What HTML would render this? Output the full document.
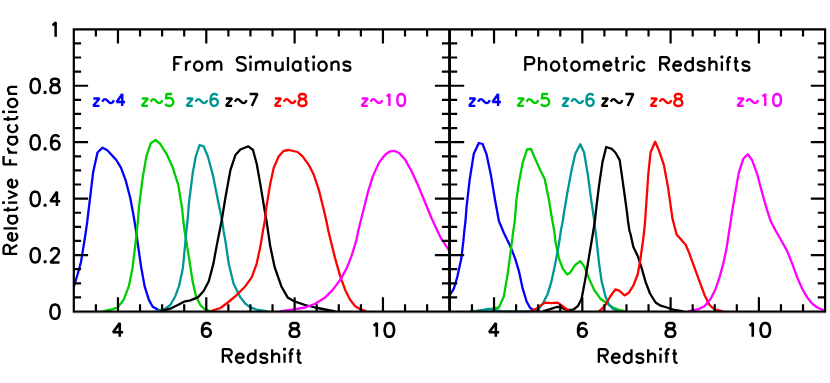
<!DOCTYPE html>
<html><head><meta charset="utf-8"><title>Redshift selection functions</title>
<style>html,body{margin:0;padding:0;background:#fff;font-family:"Liberation Sans",sans-serif}svg{display:block}</style></head>
<body>
<svg width="830" height="383" viewBox="0 0 830 383">
<rect width="830" height="383" fill="#fff"/>
<clipPath id="cl"><rect x="73.8" y="29.3" width="751.3" height="283.3"/></clipPath><g clip-path="url(#cl)">
<polyline points="73.8,286.8 77.4,275 81,262 85.2,236 87.2,222 89.1,206 93.1,172.6 97.5,152.5 102.6,147.7 107.3,150.2 116.3,160 120.9,167.6 125.6,180.1 130.2,197.7 133.5,215.2 136.1,231 137.4,241 141,266.1 144.6,286.2 148.9,299.9 152.7,306.7 157.7,309.5 165.2,311.3" fill="none" stroke="#0000ff" stroke-width="2.3" stroke-linejoin="round" stroke-linecap="butt"/>
<polyline points="102.6,311.3 112.6,309.2 117.6,307.5 123.6,299.9 128.9,286.2 132.4,268.6 135.2,246.1 136.8,231 138,220 138.9,207.7 142.7,177.6 146.4,156.3 150.7,143.3 155.7,140 160.2,143.8 166.5,153.8 172.8,167.6 178.3,185.1 182,207.7 183.3,221 184.6,231 185.8,238 189.1,258.6 192.6,281.2 196,296.2 200.3,305 204.1,308.7 210.4,311.3" fill="none" stroke="#00cd00" stroke-width="2.3" stroke-linejoin="round" stroke-linecap="butt"/>
<polyline points="155.2,311.3 165.2,308.7 170.3,305 175.3,296.2 179,286.2 182.8,268.6 185,246.1 186.3,231 187.5,221 189,202.7 192.8,172.6 195.8,156.3 199.6,145 203.6,146.3 207.8,156.3 212.9,175.1 217.9,200.2 222.2,221 223.6,231 225.4,241 228.7,263.6 233.6,283.7 240.4,297.4 245.4,303.7 250.5,307.5 258,310 268,311.3" fill="none" stroke="#009696" stroke-width="2.3" stroke-linejoin="round" stroke-linecap="butt"/>
<polyline points="160.2,311.3 170.3,308.7 177.8,305 184,301.7 190.3,300.4 197.8,297.4 203.5,291.2 208.8,281.2 213.4,263.6 216.6,246.1 219.6,231 221.6,221 225.4,197.7 230.4,170.1 235.4,155.1 240.4,149.5 248.4,146.3 253,150 256.7,163.8 260.5,185.1 264.2,207.7 266.5,221 268,231 270.2,246.1 274.6,267 281.3,286.2 287.6,297.4 295.1,301.7 305.1,305 315.1,307.5 325.2,309.5 335.2,311.3" fill="none" stroke="#000000" stroke-width="2.3" stroke-linejoin="round" stroke-linecap="butt"/>
<polyline points="210.4,311.3 220.4,308 227.9,302.5 235.4,296.2 245.4,286.2 251.7,277.4 256.7,263.6 260.5,246.1 262.9,231 264.8,221 266.3,207.7 270,185.1 273.8,167.6 278.8,156.3 283.8,150.8 288.8,150 297.6,152 302.6,156.3 308.9,165.1 313.9,175.1 318.9,190.1 323.9,210.2 326.4,221 328.4,231 330.2,238.5 335.2,258.6 340.2,276.1 345.2,289.9 350.2,299.9 355.2,306.2 360.3,309.2 366.5,311.3" fill="none" stroke="#ff0000" stroke-width="2.3" stroke-linejoin="round" stroke-linecap="butt"/>
<polyline points="280,311.3 295.1,309.2 305.1,307.5 315.1,303.7 325.2,297.4 332.7,289.9 340.2,279.9 346.5,268.6 351.5,256.1 356.5,239.8 358.2,231 360.7,221 362.8,212.7 367.8,192.6 372.8,176.4 379,162.6 385.3,154.5 390.3,151.3 394.1,150.8 399.1,153 405.4,160.1 411.6,171.3 417.9,185.1 424.2,200.2 431.7,218.5 437.5,231 440.5,237.3 449.2,250.6" fill="none" stroke="#ff00ff" stroke-width="2.3" stroke-linejoin="round" stroke-linecap="butt"/>
<polyline points="450,295 453.8,288.7 457.5,276.1 461.3,258.6 463.5,240 464.3,231 465.5,221 466.5,207.7 469.6,180.1 473.8,153.8 478.8,143 482.6,144 486.4,153.8 490.9,175.1 495.1,200.2 498.9,221 501,226 503.9,233 510.2,246.1 515.2,258.6 518.9,271.1 522.7,288.7 526.5,301.2 530.2,308 534,310.2 540.2,311.3" fill="none" stroke="#0000ff" stroke-width="2.3" stroke-linejoin="round" stroke-linecap="butt"/>
<polyline points="470,311.3 482.6,310.3 490.1,309.2 498.9,307.5 503.9,296.2 507.7,273.6 510.7,251.1 513.3,231 514.8,221 516.4,200.2 518.9,182.6 522.7,162.6 527,149.5 531,149 535.2,158.8 540.2,170.1 544.7,178.9 549,200.2 552.3,220.5 554.3,231 555.3,241 559,258.6 562.8,268.6 567.1,274.4 570.3,272.4 575.3,264.9 580.3,261.1 584.1,266.1 589.1,278.6 594.1,289.9 600.4,298.7 606.7,303.2 612.9,307.5 619.2,310 625.5,311.3" fill="none" stroke="#00cd00" stroke-width="2.3" stroke-linejoin="round" stroke-linecap="butt"/>
<polyline points="475,311.3 488.9,309 502.6,311.3 530,311.3 537.7,310 542.7,303.7 547.8,293.7 551.5,281.2 555.3,263.6 559,243.6 560.8,231 562.8,221 564,212.7 567.8,190.1 571.6,170.1 575.3,153.8 580.3,144.3 584.1,152.5 587.9,175.1 591.6,202.7 594.3,221 595.5,231 596.6,241 599.1,263.6 601.6,281.2 605.4,296.2 609.2,305 612.9,308.7 617.9,311.3" fill="none" stroke="#009696" stroke-width="2.3" stroke-linejoin="round" stroke-linecap="butt"/>
<polyline points="542.7,311.3 550.3,309.2 556.5,307 560.3,307 566.6,310 572.8,310 577.8,306.2 581.6,298.7 585.4,278.6 589.1,256.1 592.9,233.5 594.9,221 596.6,205.2 599.1,185.1 602.4,162.6 606.2,147 611.7,148.8 615.4,152.5 619.7,160.1 622.9,182.6 626.7,210.2 628,221 629.5,231 630.5,234 633.3,246.7 638,256.7 641.8,268.6 645.6,282 650,293.5 655.6,302.5 660.6,305.7 666.9,307.5 673.1,309.7 683.2,311.3" fill="none" stroke="#000000" stroke-width="2.3" stroke-linejoin="round" stroke-linecap="butt"/>
<polyline points="530.2,311.3 536.5,308.7 540.5,305.6 545,302.6 551.3,303.2 557.6,302.6 562.8,306.2 566.2,309 569.5,311.3" fill="none" stroke="#ff0000" stroke-width="2.3" stroke-linejoin="round" stroke-linecap="butt"/>
<polyline points="598.8,311.3 601.5,309.2 605.4,305 610.4,296.2 615.4,289.4 619.2,290.7 624.5,295.4 628.8,292.8 633.6,285 637.8,274 640.5,258.6 643.3,238.5 644.2,231 645.1,221 646.3,203.5 648.3,174 650.6,152.2 655.1,141.8 659.3,151.3 663.9,165.1 668.1,187.6 672.5,218.8 676.7,234.8 681.5,239.9 685.8,244.9 689.4,253.6 694.4,267.4 699.4,281.2 704.5,294.9 709.5,305 714.5,309.5 723.3,311.3" fill="none" stroke="#ff0000" stroke-width="2.3" stroke-linejoin="round" stroke-linecap="butt"/>
<polyline points="688.2,311.3 698.2,309.2 704.5,306.2 710.7,298.7 715.7,288.7 719.5,277.4 723.3,263.6 726.5,248.6 729.2,231 730.8,221 732,212.7 735.3,192.6 738.8,172.6 743.3,158.8 747.8,154.3 752.1,160.1 757.1,173.8 762.1,192.6 767.1,210.2 770.6,221 775.5,230.4 780.9,239.8 787.2,251.1 792.2,263.6 797.2,277.4 802.2,288.7 807.2,297.4 812.2,303.7 817.3,307.5 823.5,310.3 825,311.3" fill="none" stroke="#ff00ff" stroke-width="2.3" stroke-linejoin="round" stroke-linecap="butt"/>
</g>
<path d="M73.8 29.3 H449.2 V311.5 H73.8 Z M95.88 311.5 L95.88 304.2 M95.88 29.3 L95.88 36.6 M117.96 311.5 L117.96 297.2 M117.96 29.3 L117.96 43.6 M140.05 311.5 L140.05 304.2 M140.05 29.3 L140.05 36.6 M162.13 311.5 L162.13 304.2 M162.13 29.3 L162.13 36.6 M184.21 311.5 L184.21 304.2 M184.21 29.3 L184.21 36.6 M206.29 311.5 L206.29 297.2 M206.29 29.3 L206.29 43.6 M228.38 311.5 L228.38 304.2 M228.38 29.3 L228.38 36.6 M250.46 311.5 L250.46 304.2 M250.46 29.3 L250.46 36.6 M272.54 311.5 L272.54 304.2 M272.54 29.3 L272.54 36.6 M294.62 311.5 L294.62 297.2 M294.62 29.3 L294.62 43.6 M316.71 311.5 L316.71 304.2 M316.71 29.3 L316.71 36.6 M338.79 311.5 L338.79 304.2 M338.79 29.3 L338.79 36.6 M360.87 311.5 L360.87 304.2 M360.87 29.3 L360.87 36.6 M382.95 311.5 L382.95 297.2 M382.95 29.3 L382.95 43.6 M405.04 311.5 L405.04 304.2 M405.04 29.3 L405.04 36.6 M427.12 311.5 L427.12 304.2 M427.12 29.3 L427.12 36.6 M73.8 297.39 L81.1 297.39 M449.2 297.39 L441.9 297.39 M73.8 283.28 L81.1 283.28 M449.2 283.28 L441.9 283.28 M73.8 269.17 L81.1 269.17 M449.2 269.17 L441.9 269.17 M73.8 255.06 L88.1 255.06 M449.2 255.06 L434.9 255.06 M73.8 240.95 L81.1 240.95 M449.2 240.95 L441.9 240.95 M73.8 226.84 L81.1 226.84 M449.2 226.84 L441.9 226.84 M73.8 212.73 L81.1 212.73 M449.2 212.73 L441.9 212.73 M73.8 198.62 L88.1 198.62 M449.2 198.62 L434.9 198.62 M73.8 184.51 L81.1 184.51 M449.2 184.51 L441.9 184.51 M73.8 170.4 L81.1 170.4 M449.2 170.4 L441.9 170.4 M73.8 156.29 L81.1 156.29 M449.2 156.29 L441.9 156.29 M73.8 142.18 L88.1 142.18 M449.2 142.18 L434.9 142.18 M73.8 128.07 L81.1 128.07 M449.2 128.07 L441.9 128.07 M73.8 113.96 L81.1 113.96 M449.2 113.96 L441.9 113.96 M73.8 99.85 L81.1 99.85 M449.2 99.85 L441.9 99.85 M73.8 85.74 L88.1 85.74 M449.2 85.74 L434.9 85.74 M73.8 71.63 L81.1 71.63 M449.2 71.63 L441.9 71.63 M73.8 57.52 L81.1 57.52 M449.2 57.52 L441.9 57.52 M73.8 43.41 L81.1 43.41 M449.2 43.41 L441.9 43.41 M449.9 29.3 H825.1 V311.5 H449.9 Z M471.97 311.5 L471.97 304.2 M471.97 29.3 L471.97 36.6 M494.04 311.5 L494.04 297.2 M494.04 29.3 L494.04 43.6 M516.11 311.5 L516.11 304.2 M516.11 29.3 L516.11 36.6 M538.18 311.5 L538.18 304.2 M538.18 29.3 L538.18 36.6 M560.25 311.5 L560.25 304.2 M560.25 29.3 L560.25 36.6 M582.32 311.5 L582.32 297.2 M582.32 29.3 L582.32 43.6 M604.39 311.5 L604.39 304.2 M604.39 29.3 L604.39 36.6 M626.46 311.5 L626.46 304.2 M626.46 29.3 L626.46 36.6 M648.54 311.5 L648.54 304.2 M648.54 29.3 L648.54 36.6 M670.61 311.5 L670.61 297.2 M670.61 29.3 L670.61 43.6 M692.68 311.5 L692.68 304.2 M692.68 29.3 L692.68 36.6 M714.75 311.5 L714.75 304.2 M714.75 29.3 L714.75 36.6 M736.82 311.5 L736.82 304.2 M736.82 29.3 L736.82 36.6 M758.89 311.5 L758.89 297.2 M758.89 29.3 L758.89 43.6 M780.96 311.5 L780.96 304.2 M780.96 29.3 L780.96 36.6 M803.03 311.5 L803.03 304.2 M803.03 29.3 L803.03 36.6 M449.9 297.39 L457.2 297.39 M825.1 297.39 L817.8 297.39 M449.9 283.28 L457.2 283.28 M825.1 283.28 L817.8 283.28 M449.9 269.17 L457.2 269.17 M825.1 269.17 L817.8 269.17 M449.9 255.06 L464.2 255.06 M825.1 255.06 L810.8 255.06 M449.9 240.95 L457.2 240.95 M825.1 240.95 L817.8 240.95 M449.9 226.84 L457.2 226.84 M825.1 226.84 L817.8 226.84 M449.9 212.73 L457.2 212.73 M825.1 212.73 L817.8 212.73 M449.9 198.62 L464.2 198.62 M825.1 198.62 L810.8 198.62 M449.9 184.51 L457.2 184.51 M825.1 184.51 L817.8 184.51 M449.9 170.4 L457.2 170.4 M825.1 170.4 L817.8 170.4 M449.9 156.29 L457.2 156.29 M825.1 156.29 L817.8 156.29 M449.9 142.18 L464.2 142.18 M825.1 142.18 L810.8 142.18 M449.9 128.07 L457.2 128.07 M825.1 128.07 L817.8 128.07 M449.9 113.96 L457.2 113.96 M825.1 113.96 L817.8 113.96 M449.9 99.85 L457.2 99.85 M825.1 99.85 L817.8 99.85 M449.9 85.74 L464.2 85.74 M825.1 85.74 L810.8 85.74 M449.9 71.63 L457.2 71.63 M825.1 71.63 L817.8 71.63 M449.9 57.52 L457.2 57.52 M825.1 57.52 L817.8 57.52 M449.9 43.41 L457.2 43.41 M825.1 43.41 L817.8 43.41" stroke="#000" stroke-width="2.2" fill="none" stroke-linecap="butt" stroke-linejoin="miter"/>
<path d="M72.7 312.8 H826.2" stroke="#2a0a2a" stroke-width="0.5" fill="none"/>
<path transform="translate(61.6 318.85)" d="M-7.25 -14.28 L-9.2 -13.6 L-10.5 -11.56 L-11.15 -8.16 L-11.15 -6.12 L-10.5 -2.72 L-9.2 -0.68 L-7.25 0 L-5.95 0 L-4 -0.68 L-2.7 -2.72 L-2.05 -6.12 L-2.05 -8.16 L-2.7 -11.56 L-4 -13.6 L-5.95 -14.28Z" stroke="#000" stroke-width="2.5" fill="none" stroke-linecap="butt" stroke-linejoin="bevel"/>
<path transform="translate(61.6 262.41)" d="M-27.05 -14.28 L-29 -13.6 L-30.3 -11.56 L-30.95 -8.16 L-30.95 -6.12 L-30.3 -2.72 L-29 -0.68 L-27.05 0 L-25.75 0 L-23.8 -0.68 L-22.5 -2.72 L-21.85 -6.12 L-21.85 -8.16 L-22.5 -11.56 L-23.8 -13.6 L-25.75 -14.28Z M-16.5 -1.36 L-17.15 -0.68 L-16.5 0 L-15.85 -0.68Z M-10.5 -10.88 L-10.5 -11.56 L-9.85 -12.92 L-9.2 -13.6 L-7.9 -14.28 L-5.3 -14.28 L-4 -13.6 L-3.35 -12.92 L-2.7 -11.56 L-2.7 -10.2 L-3.35 -8.84 L-4.65 -6.8 L-11.15 0 L-2.05 0" stroke="#000" stroke-width="2.5" fill="none" stroke-linecap="butt" stroke-linejoin="bevel"/>
<path transform="translate(61.6 205.97)" d="M-27.05 -14.28 L-29 -13.6 L-30.3 -11.56 L-30.95 -8.16 L-30.95 -6.12 L-30.3 -2.72 L-29 -0.68 L-27.05 0 L-25.75 0 L-23.8 -0.68 L-22.5 -2.72 L-21.85 -6.12 L-21.85 -8.16 L-22.5 -11.56 L-23.8 -13.6 L-25.75 -14.28Z M-16.5 -1.36 L-17.15 -0.68 L-16.5 0 L-15.85 -0.68Z M-1.4 -4.76 L-11.15 -4.76 L-4.65 -14.28 L-4.65 0" stroke="#000" stroke-width="2.5" fill="none" stroke-linecap="butt" stroke-linejoin="bevel"/>
<path transform="translate(61.6 149.53)" d="M-27.05 -14.28 L-29 -13.6 L-30.3 -11.56 L-30.95 -8.16 L-30.95 -6.12 L-30.3 -2.72 L-29 -0.68 L-27.05 0 L-25.75 0 L-23.8 -0.68 L-22.5 -2.72 L-21.85 -6.12 L-21.85 -8.16 L-22.5 -11.56 L-23.8 -13.6 L-25.75 -14.28Z M-16.5 -1.36 L-17.15 -0.68 L-16.5 0 L-15.85 -0.68Z M-2.7 -12.24 L-3.35 -13.6 L-5.3 -14.28 L-6.6 -14.28 L-8.55 -13.6 L-9.85 -11.56 L-10.5 -8.16 L-10.5 -4.76 L-9.85 -2.04 L-8.55 -0.68 L-6.6 0 L-5.95 0 L-4 -0.68 L-2.7 -2.04 L-2.05 -4.08 L-2.05 -4.76 L-2.7 -6.8 L-4 -8.16 L-5.95 -8.84 L-6.6 -8.84 L-8.55 -8.16 L-9.85 -6.8 L-10.5 -4.76" stroke="#000" stroke-width="2.5" fill="none" stroke-linecap="butt" stroke-linejoin="bevel"/>
<path transform="translate(61.6 93.09)" d="M-27.05 -14.28 L-29 -13.6 L-30.3 -11.56 L-30.95 -8.16 L-30.95 -6.12 L-30.3 -2.72 L-29 -0.68 L-27.05 0 L-25.75 0 L-23.8 -0.68 L-22.5 -2.72 L-21.85 -6.12 L-21.85 -8.16 L-22.5 -11.56 L-23.8 -13.6 L-25.75 -14.28Z M-16.5 -1.36 L-17.15 -0.68 L-16.5 0 L-15.85 -0.68Z M-7.9 -14.28 L-9.85 -13.6 L-10.5 -12.24 L-10.5 -10.88 L-9.85 -9.52 L-8.55 -8.84 L-5.95 -8.16 L-4 -7.48 L-2.7 -6.12 L-2.05 -4.76 L-2.05 -2.72 L-2.7 -1.36 L-3.35 -0.68 L-5.3 0 L-7.9 0 L-9.85 -0.68 L-10.5 -1.36 L-11.15 -2.72 L-11.15 -4.76 L-10.5 -6.12 L-9.2 -7.48 L-7.25 -8.16 L-4.65 -8.84 L-3.35 -9.52 L-2.7 -10.88 L-2.7 -12.24 L-3.35 -13.6 L-5.3 -14.28Z" stroke="#000" stroke-width="2.5" fill="none" stroke-linecap="butt" stroke-linejoin="bevel"/>
<path transform="translate(61.6 36.65)" d="M-9.2 -11.56 L-7.9 -12.24 L-5.95 -14.28 L-5.95 0" stroke="#000" stroke-width="2.5" fill="none" stroke-linecap="butt" stroke-linejoin="bevel"/>
<path transform="translate(117.76 336.8)" d="M5.36 -4.58 L-4.69 -4.58 L2.01 -13.76 L2.01 0" stroke="#000" stroke-width="2.6" fill="none" stroke-linecap="butt" stroke-linejoin="bevel"/>
<path transform="translate(206.09 336.8)" d="M4.02 -11.79 L3.35 -13.1 L1.34 -13.76 L0 -13.76 L-2.01 -13.1 L-3.35 -11.13 L-4.02 -7.86 L-4.02 -4.58 L-3.35 -1.97 L-2.01 -0.66 L0 0 L0.67 0 L2.68 -0.66 L4.02 -1.97 L4.69 -3.93 L4.69 -4.58 L4.02 -6.55 L2.68 -7.86 L0.67 -8.52 L0 -8.52 L-2.01 -7.86 L-3.35 -6.55 L-4.02 -4.58" stroke="#000" stroke-width="2.6" fill="none" stroke-linecap="butt" stroke-linejoin="bevel"/>
<path transform="translate(294.42 336.8)" d="M-1.34 -13.76 L-3.35 -13.1 L-4.02 -11.79 L-4.02 -10.48 L-3.35 -9.17 L-2.01 -8.52 L0.67 -7.86 L2.68 -7.21 L4.02 -5.9 L4.69 -4.58 L4.69 -2.62 L4.02 -1.31 L3.35 -0.66 L1.34 0 L-1.34 0 L-3.35 -0.66 L-4.02 -1.31 L-4.69 -2.62 L-4.69 -4.58 L-4.02 -5.9 L-2.68 -7.21 L-0.67 -7.86 L2.01 -8.52 L3.35 -9.17 L4.02 -10.48 L4.02 -11.79 L3.35 -13.1 L1.34 -13.76Z" stroke="#000" stroke-width="2.6" fill="none" stroke-linecap="butt" stroke-linejoin="bevel"/>
<path transform="translate(382.75 336.8)" d="M-9.28 -11.13 L-7.94 -11.79 L-5.93 -13.76 L-5.93 0 M5.93 -13.76 L3.92 -13.1 L2.58 -11.13 L1.91 -7.86 L1.91 -5.9 L2.58 -2.62 L3.92 -0.66 L5.93 0 L7.27 0 L9.28 -0.66 L10.62 -2.62 L11.29 -5.9 L11.29 -7.86 L10.62 -11.13 L9.28 -13.1 L7.27 -13.76Z" stroke="#000" stroke-width="2.6" fill="none" stroke-linecap="butt" stroke-linejoin="bevel"/>
<path transform="translate(261.5 362.8)" d="M-34.23 -7.15 L-29.78 0 M-38.67 0 L-38.67 -13.65 L-32.96 -13.65 L-31.05 -13 L-30.42 -12.35 L-29.78 -11.05 L-29.78 -9.75 L-30.42 -8.45 L-31.05 -7.8 L-32.96 -7.15 L-38.67 -7.15 M-25.52 -5.2 L-17.9 -5.2 L-17.9 -6.5 L-18.54 -7.8 L-19.17 -8.45 L-20.44 -9.1 L-22.35 -9.1 L-23.62 -8.45 L-24.89 -7.15 L-25.52 -5.2 L-25.52 -3.9 L-24.89 -1.95 L-23.62 -0.65 L-22.35 0 L-20.44 0 L-19.17 -0.65 L-17.9 -1.95 M-6.05 -13.65 L-6.05 0 M-6.05 -7.15 L-7.32 -8.45 L-8.59 -9.1 L-10.49 -9.1 L-11.76 -8.45 L-13.03 -7.15 L-13.67 -5.2 L-13.67 -3.9 L-13.03 -1.95 L-11.76 -0.65 L-10.49 0 L-8.59 0 L-7.32 -0.65 L-6.05 -1.95 M5.8 -7.15 L5.16 -8.45 L3.26 -9.1 L1.35 -9.1 L-0.55 -8.45 L-1.19 -7.15 L-0.55 -5.85 L0.72 -5.2 L3.89 -4.55 L5.16 -3.9 L5.8 -2.6 L5.8 -1.95 L5.16 -0.65 L3.26 0 L1.35 0 L-0.55 -0.65 L-1.19 -1.95 M10.65 -13.65 L10.65 0 M10.65 -6.5 L12.56 -8.45 L13.83 -9.1 L15.73 -9.1 L17 -8.45 L17.64 -6.5 L17.64 0 M22.4 -13.65 L23.03 -13 L23.67 -13.65 L23.03 -14.3Z M23.03 -9.1 L23.03 0 M32.15 -13.65 L30.88 -13.65 L29.61 -13 L28.98 -11.05 L28.98 0 M27.07 -9.1 L31.52 -9.1 M36.87 -13.65 L36.87 -2.6 L37.51 -0.65 L38.78 0 L40.05 0 M34.97 -9.1 L39.41 -9.1" stroke="#000" stroke-width="2.3" fill="none" stroke-linecap="butt" stroke-linejoin="bevel"/>
<path transform="translate(493.84 336.8)" d="M5.36 -4.58 L-4.69 -4.58 L2.01 -13.76 L2.01 0" stroke="#000" stroke-width="2.6" fill="none" stroke-linecap="butt" stroke-linejoin="bevel"/>
<path transform="translate(582.12 336.8)" d="M4.02 -11.79 L3.35 -13.1 L1.34 -13.76 L0 -13.76 L-2.01 -13.1 L-3.35 -11.13 L-4.02 -7.86 L-4.02 -4.58 L-3.35 -1.97 L-2.01 -0.66 L0 0 L0.67 0 L2.68 -0.66 L4.02 -1.97 L4.69 -3.93 L4.69 -4.58 L4.02 -6.55 L2.68 -7.86 L0.67 -8.52 L0 -8.52 L-2.01 -7.86 L-3.35 -6.55 L-4.02 -4.58" stroke="#000" stroke-width="2.6" fill="none" stroke-linecap="butt" stroke-linejoin="bevel"/>
<path transform="translate(670.41 336.8)" d="M-1.34 -13.76 L-3.35 -13.1 L-4.02 -11.79 L-4.02 -10.48 L-3.35 -9.17 L-2.01 -8.52 L0.67 -7.86 L2.68 -7.21 L4.02 -5.9 L4.69 -4.58 L4.69 -2.62 L4.02 -1.31 L3.35 -0.66 L1.34 0 L-1.34 0 L-3.35 -0.66 L-4.02 -1.31 L-4.69 -2.62 L-4.69 -4.58 L-4.02 -5.9 L-2.68 -7.21 L-0.67 -7.86 L2.01 -8.52 L3.35 -9.17 L4.02 -10.48 L4.02 -11.79 L3.35 -13.1 L1.34 -13.76Z" stroke="#000" stroke-width="2.6" fill="none" stroke-linecap="butt" stroke-linejoin="bevel"/>
<path transform="translate(758.69 336.8)" d="M-9.28 -11.13 L-7.94 -11.79 L-5.93 -13.76 L-5.93 0 M5.93 -13.76 L3.92 -13.1 L2.58 -11.13 L1.91 -7.86 L1.91 -5.9 L2.58 -2.62 L3.92 -0.66 L5.93 0 L7.27 0 L9.28 -0.66 L10.62 -2.62 L11.29 -5.9 L11.29 -7.86 L10.62 -11.13 L9.28 -13.1 L7.27 -13.76Z" stroke="#000" stroke-width="2.6" fill="none" stroke-linecap="butt" stroke-linejoin="bevel"/>
<path transform="translate(637.5 362.8)" d="M-34.23 -7.15 L-29.78 0 M-38.67 0 L-38.67 -13.65 L-32.96 -13.65 L-31.05 -13 L-30.42 -12.35 L-29.78 -11.05 L-29.78 -9.75 L-30.42 -8.45 L-31.05 -7.8 L-32.96 -7.15 L-38.67 -7.15 M-25.52 -5.2 L-17.9 -5.2 L-17.9 -6.5 L-18.54 -7.8 L-19.17 -8.45 L-20.44 -9.1 L-22.35 -9.1 L-23.62 -8.45 L-24.89 -7.15 L-25.52 -5.2 L-25.52 -3.9 L-24.89 -1.95 L-23.62 -0.65 L-22.35 0 L-20.44 0 L-19.17 -0.65 L-17.9 -1.95 M-6.05 -13.65 L-6.05 0 M-6.05 -7.15 L-7.32 -8.45 L-8.59 -9.1 L-10.49 -9.1 L-11.76 -8.45 L-13.03 -7.15 L-13.67 -5.2 L-13.67 -3.9 L-13.03 -1.95 L-11.76 -0.65 L-10.49 0 L-8.59 0 L-7.32 -0.65 L-6.05 -1.95 M5.8 -7.15 L5.16 -8.45 L3.26 -9.1 L1.35 -9.1 L-0.55 -8.45 L-1.19 -7.15 L-0.55 -5.85 L0.72 -5.2 L3.89 -4.55 L5.16 -3.9 L5.8 -2.6 L5.8 -1.95 L5.16 -0.65 L3.26 0 L1.35 0 L-0.55 -0.65 L-1.19 -1.95 M10.65 -13.65 L10.65 0 M10.65 -6.5 L12.56 -8.45 L13.83 -9.1 L15.73 -9.1 L17 -8.45 L17.64 -6.5 L17.64 0 M22.4 -13.65 L23.03 -13 L23.67 -13.65 L23.03 -14.3Z M23.03 -9.1 L23.03 0 M32.15 -13.65 L30.88 -13.65 L29.61 -13 L28.98 -11.05 L28.98 0 M27.07 -9.1 L31.52 -9.1 M36.87 -13.65 L36.87 -2.6 L37.51 -0.65 L38.78 0 L40.05 0 M34.97 -9.1 L39.41 -9.1" stroke="#000" stroke-width="2.3" fill="none" stroke-linecap="butt" stroke-linejoin="bevel"/>
<path transform="translate(17.2 170.4) rotate(-90)" d="M-78.97 -7.15 L-74.53 0 M-83.42 0 L-83.42 -13.65 L-77.7 -13.65 L-75.8 -13 L-75.16 -12.35 L-74.53 -11.05 L-74.53 -9.75 L-75.16 -8.45 L-75.8 -7.8 L-77.7 -7.15 L-83.42 -7.15 M-70.27 -5.2 L-62.65 -5.2 L-62.65 -6.5 L-63.28 -7.8 L-63.92 -8.45 L-65.19 -9.1 L-67.09 -9.1 L-68.36 -8.45 L-69.63 -7.15 L-70.27 -5.2 L-70.27 -3.9 L-69.63 -1.95 L-68.36 -0.65 L-67.09 0 L-65.19 0 L-63.92 -0.65 L-62.65 -1.95 M-57.9 -13.65 L-57.9 0 M-45.53 -9.1 L-45.53 0 M-45.53 -7.15 L-46.8 -8.45 L-48.07 -9.1 L-49.97 -9.1 L-51.24 -8.45 L-52.51 -7.15 L-53.15 -5.2 L-53.15 -3.9 L-52.51 -1.95 L-51.24 -0.65 L-49.97 0 L-48.07 0 L-46.8 -0.65 L-45.53 -1.95 M-39.46 -13.65 L-39.46 -2.6 L-38.82 -0.65 L-37.55 0 L-36.28 0 M-41.36 -9.1 L-36.92 -9.1 M-32.88 -13.65 L-32.24 -13 L-31.61 -13.65 L-32.24 -14.3Z M-32.24 -9.1 L-32.24 0 M-28.16 -9.1 L-24.35 0 L-20.54 -9.1 M-16.97 -5.2 L-9.35 -5.2 L-9.35 -6.5 L-9.98 -7.8 L-10.62 -8.45 L-11.89 -9.1 L-13.79 -9.1 L-15.06 -8.45 L-16.34 -7.15 L-16.97 -5.2 L-16.97 -3.9 L-16.34 -1.95 L-15.06 -0.65 L-13.79 0 L-11.89 0 L-10.62 -0.65 L-9.35 -1.95 M6.04 -7.15 L11.12 -7.15 M6.04 0 L6.04 -13.65 L14.29 -13.65 M17.82 -9.1 L17.82 0 M17.82 -5.2 L18.46 -7.15 L19.73 -8.45 L21 -9.1 L22.9 -9.1 M33.43 -9.1 L33.43 0 M33.43 -7.15 L32.16 -8.45 L30.89 -9.1 L28.99 -9.1 L27.72 -8.45 L26.45 -7.15 L25.81 -5.2 L25.81 -3.9 L26.45 -1.95 L27.72 -0.65 L28.99 0 L30.89 0 L32.16 -0.65 L33.43 -1.95 M45.92 -7.15 L44.65 -8.45 L43.38 -9.1 L41.48 -9.1 L40.21 -8.45 L38.94 -7.15 L38.3 -5.2 L38.3 -3.9 L38.94 -1.95 L40.21 -0.65 L41.48 0 L43.38 0 L44.65 -0.65 L45.92 -1.95 M51.35 -13.65 L51.35 -2.6 L51.98 -0.65 L53.25 0 L54.52 0 M49.44 -9.1 L53.89 -9.1 M57.93 -13.65 L58.56 -13 L59.2 -13.65 L58.56 -14.3Z M58.56 -9.1 L58.56 0 M66.49 -9.1 L65.22 -8.45 L63.95 -7.15 L63.32 -5.2 L63.32 -3.9 L63.95 -1.95 L65.22 -0.65 L66.49 0 L68.4 0 L69.67 -0.65 L70.94 -1.95 L71.57 -3.9 L71.57 -5.2 L70.94 -7.15 L69.67 -8.45 L68.4 -9.1Z M76.45 -9.1 L76.45 0 M76.45 -6.5 L78.36 -8.45 L79.63 -9.1 L81.53 -9.1 L82.8 -8.45 L83.44 -6.5 L83.44 0" stroke="#000" stroke-width="2.3" fill="none" stroke-linecap="butt" stroke-linejoin="bevel"/>
<path transform="translate(262 70.7)" d="M-87.73 -7.15 L-82.65 -7.15 M-87.73 0 L-87.73 -13.65 L-79.47 -13.65 M-75.94 -9.1 L-75.94 0 M-75.94 -5.2 L-75.31 -7.15 L-74.04 -8.45 L-72.77 -9.1 L-70.86 -9.1 M-64.78 -9.1 L-66.05 -8.45 L-67.32 -7.15 L-67.95 -5.2 L-67.95 -3.9 L-67.32 -1.95 L-66.05 -0.65 L-64.78 0 L-62.87 0 L-61.6 -0.65 L-60.33 -1.95 L-59.7 -3.9 L-59.7 -5.2 L-60.33 -7.15 L-61.6 -8.45 L-62.87 -9.1Z M-54.69 -9.1 L-54.69 0 M-54.69 -6.5 L-52.78 -8.45 L-51.52 -9.1 L-49.61 -9.1 L-48.34 -8.45 L-47.7 -6.5 L-47.7 0 M-47.7 -6.5 L-45.8 -8.45 L-44.53 -9.1 L-42.62 -9.1 L-41.35 -8.45 L-40.72 -6.5 L-40.72 0 M-16.28 -11.7 L-17.55 -13 L-19.46 -13.65 L-22 -13.65 L-23.9 -13 L-25.17 -11.7 L-25.17 -10.4 L-24.54 -9.1 L-23.9 -8.45 L-22.63 -7.8 L-18.82 -6.5 L-17.55 -5.85 L-16.92 -5.2 L-16.28 -3.9 L-16.28 -1.95 L-17.55 -0.65 L-19.46 0 L-22 0 L-23.9 -0.65 L-25.17 -1.95 M-12.15 -13.65 L-11.51 -13 L-10.88 -13.65 L-11.51 -14.3Z M-11.51 -9.1 L-11.51 0 M-6 -9.1 L-6 0 M-6 -6.5 L-4.09 -8.45 L-2.82 -9.1 L-0.92 -9.1 L0.35 -8.45 L0.99 -6.5 L0.99 0 M0.99 -6.5 L2.89 -8.45 L4.16 -9.1 L6.07 -9.1 L7.34 -8.45 L7.97 -6.5 L7.97 0 M13.62 -9.1 L13.62 -2.6 L14.25 -0.65 L15.52 0 L17.43 0 L18.7 -0.65 L20.6 -2.6 M20.6 -9.1 L20.6 0 M25.99 -13.65 L25.99 0 M38.37 -9.1 L38.37 0 M38.37 -7.15 L37.1 -8.45 L35.83 -9.1 L33.92 -9.1 L32.65 -8.45 L31.38 -7.15 L30.75 -5.2 L30.75 -3.9 L31.38 -1.95 L32.65 -0.65 L33.92 0 L35.83 0 L37.1 -0.65 L38.37 -1.95 M44.44 -13.65 L44.44 -2.6 L45.07 -0.65 L46.34 0 L47.61 0 M42.53 -9.1 L46.98 -9.1 M51.02 -13.65 L51.65 -13 L52.29 -13.65 L51.65 -14.3Z M51.65 -9.1 L51.65 0 M59.58 -9.1 L58.31 -8.45 L57.04 -7.15 L56.41 -5.2 L56.41 -3.9 L57.04 -1.95 L58.31 -0.65 L59.58 0 L61.49 0 L62.76 -0.65 L64.03 -1.95 L64.66 -3.9 L64.66 -5.2 L64.03 -7.15 L62.76 -8.45 L61.49 -9.1Z M69.55 -9.1 L69.55 0 M69.55 -6.5 L71.45 -8.45 L72.72 -9.1 L74.63 -9.1 L75.9 -8.45 L76.53 -6.5 L76.53 0 M88.37 -7.15 L87.74 -8.45 L85.83 -9.1 L83.93 -9.1 L82.02 -8.45 L81.39 -7.15 L82.02 -5.85 L83.29 -5.2 L86.47 -4.55 L87.74 -3.9 L88.37 -2.6 L88.37 -1.95 L87.74 -0.65 L85.83 0 L83.93 0 L82.02 -0.65 L81.39 -1.95" stroke="#000" stroke-width="2.3" fill="none" stroke-linecap="butt" stroke-linejoin="bevel"/>
<path transform="translate(637 70.7)" d="M-111.71 0 L-111.71 -13.65 L-106 -13.65 L-104.09 -13 L-103.46 -12.35 L-102.82 -11.05 L-102.82 -9.1 L-103.46 -7.8 L-104.09 -7.15 L-106 -6.5 L-111.71 -6.5 M-97.92 -13.65 L-97.92 0 M-97.92 -6.5 L-96.01 -8.45 L-94.74 -9.1 L-92.84 -9.1 L-91.57 -8.45 L-90.93 -6.5 L-90.93 0 M-82.87 -9.1 L-84.14 -8.45 L-85.41 -7.15 L-86.05 -5.2 L-86.05 -3.9 L-85.41 -1.95 L-84.14 -0.65 L-82.87 0 L-80.97 0 L-79.7 -0.65 L-78.43 -1.95 L-77.79 -3.9 L-77.79 -5.2 L-78.43 -7.15 L-79.7 -8.45 L-80.97 -9.1Z M-72.36 -13.65 L-72.36 -2.6 L-71.72 -0.65 L-70.45 0 L-69.18 0 M-74.26 -9.1 L-69.82 -9.1 M-62.48 -9.1 L-63.75 -8.45 L-65.02 -7.15 L-65.65 -5.2 L-65.65 -3.9 L-65.02 -1.95 L-63.75 -0.65 L-62.48 0 L-60.57 0 L-59.3 -0.65 L-58.03 -1.95 L-57.4 -3.9 L-57.4 -5.2 L-58.03 -7.15 L-59.3 -8.45 L-60.57 -9.1Z M-52.39 -9.1 L-52.39 0 M-52.39 -6.5 L-50.48 -8.45 L-49.21 -9.1 L-47.31 -9.1 L-46.04 -8.45 L-45.4 -6.5 L-45.4 0 M-45.4 -6.5 L-43.5 -8.45 L-42.23 -9.1 L-40.32 -9.1 L-39.05 -8.45 L-38.42 -6.5 L-38.42 0 M-33.42 -5.2 L-25.8 -5.2 L-25.8 -6.5 L-26.44 -7.8 L-27.07 -8.45 L-28.34 -9.1 L-30.25 -9.1 L-31.52 -8.45 L-32.79 -7.15 L-33.42 -5.2 L-33.42 -3.9 L-32.79 -1.95 L-31.52 -0.65 L-30.25 0 L-28.34 0 L-27.07 -0.65 L-25.8 -1.95 M-20.38 -13.65 L-20.38 -2.6 L-19.74 -0.65 L-18.47 0 L-17.2 0 M-22.28 -9.1 L-17.84 -9.1 M-13.1 -9.1 L-13.1 0 M-13.1 -5.2 L-12.47 -7.15 L-11.2 -8.45 L-9.93 -9.1 L-8.02 -9.1 M-5.24 -13.65 L-4.61 -13 L-3.97 -13.65 L-4.61 -14.3Z M-4.61 -9.1 L-4.61 0 M7.76 -7.15 L6.49 -8.45 L5.22 -9.1 L3.31 -9.1 L2.04 -8.45 L0.77 -7.15 L0.14 -5.2 L0.14 -3.9 L0.77 -1.95 L2.04 -0.65 L3.31 0 L5.22 0 L6.49 -0.65 L7.76 -1.95 M27.62 -7.15 L32.07 0 M23.18 0 L23.18 -13.65 L28.89 -13.65 L30.8 -13 L31.43 -12.35 L32.07 -11.05 L32.07 -9.75 L31.43 -8.45 L30.8 -7.8 L28.89 -7.15 L23.18 -7.15 M36.33 -5.2 L43.95 -5.2 L43.95 -6.5 L43.31 -7.8 L42.68 -8.45 L41.41 -9.1 L39.5 -9.1 L38.23 -8.45 L36.96 -7.15 L36.33 -5.2 L36.33 -3.9 L36.96 -1.95 L38.23 -0.65 L39.5 0 L41.41 0 L42.68 -0.65 L43.95 -1.95 M55.8 -13.65 L55.8 0 M55.8 -7.15 L54.53 -8.45 L53.26 -9.1 L51.36 -9.1 L50.09 -8.45 L48.82 -7.15 L48.18 -5.2 L48.18 -3.9 L48.82 -1.95 L50.09 -0.65 L51.36 0 L53.26 0 L54.53 -0.65 L55.8 -1.95 M67.65 -7.15 L67.01 -8.45 L65.11 -9.1 L63.2 -9.1 L61.3 -8.45 L60.66 -7.15 L61.3 -5.85 L62.57 -5.2 L65.74 -4.55 L67.01 -3.9 L67.65 -2.6 L67.65 -1.95 L67.01 -0.65 L65.11 0 L63.2 0 L61.3 -0.65 L60.66 -1.95 M72.51 -13.65 L72.51 0 M72.51 -6.5 L74.41 -8.45 L75.68 -9.1 L77.59 -9.1 L78.86 -8.45 L79.49 -6.5 L79.49 0 M84.25 -13.65 L84.88 -13 L85.52 -13.65 L84.88 -14.3Z M84.88 -9.1 L84.88 0 M94 -13.65 L92.73 -13.65 L91.46 -13 L90.83 -11.05 L90.83 0 M88.92 -9.1 L93.37 -9.1 M98.72 -13.65 L98.72 -2.6 L99.36 -0.65 L100.63 0 L101.9 0 M96.82 -9.1 L101.26 -9.1 M112.39 -7.15 L111.76 -8.45 L109.85 -9.1 L107.95 -9.1 L106.04 -8.45 L105.41 -7.15 L106.04 -5.85 L107.31 -5.2 L110.49 -4.55 L111.76 -3.9 L112.39 -2.6 L112.39 -1.95 L111.76 -0.65 L109.85 0 L107.95 0 L106.04 -0.65 L105.41 -1.95" stroke="#000" stroke-width="2.3" fill="none" stroke-linecap="butt" stroke-linejoin="bevel"/>
<path d="M93.29 98.43 L99.45 98.43 L93.29 105.85 L99.45 105.85" stroke="#0000ff" stroke-width="2.4" fill="none" stroke-linecap="butt" stroke-linejoin="bevel"/>
<path d="M102.27 101.75 c0.8 -1.8 1.8 -2.65 2.95 -2.65 c1.65 0 3.65 4.05 5.35 4.05 c1.4 0 2.7 -1.2 3.3 -3" stroke="#0000ff" stroke-width="2.4" fill="none" stroke-linecap="butt"/>
<path d="M125.07 101.96 L116.67 101.96 L122.27 93.98 L122.27 105.95" stroke="#0000ff" stroke-width="2.4" fill="none" stroke-linecap="butt" stroke-linejoin="bevel"/>
<path d="M141.76 98.43 L147.92 98.43 L141.76 105.85 L147.92 105.85" stroke="#00cd00" stroke-width="2.4" fill="none" stroke-linecap="butt" stroke-linejoin="bevel"/>
<path d="M150.74 101.75 c0.8 -1.8 1.8 -2.65 2.95 -2.65 c1.65 0 3.65 4.05 5.35 4.05 c1.4 0 2.7 -1.2 3.3 -3" stroke="#00cd00" stroke-width="2.4" fill="none" stroke-linecap="butt"/>
<path d="M172.14 93.98 L166.54 93.98 L165.98 99.11 L166.54 98.54 L168.22 97.97 L169.9 97.97 L171.58 98.54 L172.7 99.68 L173.26 101.39 L173.26 102.53 L172.7 104.24 L171.58 105.38 L169.9 105.95 L168.22 105.95 L166.54 105.38 L165.98 104.81 L165.42 103.67" stroke="#00cd00" stroke-width="2.4" fill="none" stroke-linecap="butt" stroke-linejoin="bevel"/>
<path d="M186.62 98.43 L192.78 98.43 L186.62 105.85 L192.78 105.85" stroke="#009696" stroke-width="2.4" fill="none" stroke-linecap="butt" stroke-linejoin="bevel"/>
<path d="M195.6 101.75 c0.8 -1.8 1.8 -2.65 2.95 -2.65 c1.65 0 3.65 4.05 5.35 4.05 c1.4 0 2.7 -1.2 3.3 -3" stroke="#009696" stroke-width="2.4" fill="none" stroke-linecap="butt"/>
<path d="M217.28 95.69 L216.72 94.55 L215.04 93.98 L213.92 93.98 L212.24 94.55 L211.12 96.26 L210.56 99.11 L210.56 101.96 L211.12 104.24 L212.24 105.38 L213.92 105.95 L214.48 105.95 L216.16 105.38 L217.28 104.24 L217.84 102.53 L217.84 101.96 L217.28 100.25 L216.16 99.11 L214.48 98.54 L213.92 98.54 L212.24 99.11 L211.12 100.25 L210.56 101.96" stroke="#009696" stroke-width="2.4" fill="none" stroke-linecap="butt" stroke-linejoin="bevel"/>
<path d="M225.95 98.43 L232.11 98.43 L225.95 105.85 L232.11 105.85" stroke="#000000" stroke-width="2.4" fill="none" stroke-linecap="butt" stroke-linejoin="bevel"/>
<path d="M234.93 101.75 c0.8 -1.8 1.8 -2.65 2.95 -2.65 c1.65 0 3.65 4.05 5.35 4.05 c1.4 0 2.7 -1.2 3.3 -3" stroke="#000000" stroke-width="2.4" fill="none" stroke-linecap="butt"/>
<path d="M249.61 93.98 L257.45 93.98 L251.85 105.95" stroke="#000000" stroke-width="2.4" fill="none" stroke-linecap="butt" stroke-linejoin="bevel"/>
<path d="M274.86 98.43 L281.02 98.43 L274.86 105.85 L281.02 105.85" stroke="#ff0000" stroke-width="2.4" fill="none" stroke-linecap="butt" stroke-linejoin="bevel"/>
<path d="M283.84 101.75 c0.8 -1.8 1.8 -2.65 2.95 -2.65 c1.65 0 3.65 4.05 5.35 4.05 c1.4 0 2.7 -1.2 3.3 -3" stroke="#ff0000" stroke-width="2.4" fill="none" stroke-linecap="butt"/>
<path d="M301.32 93.98 L299.64 94.55 L299.08 95.69 L299.08 96.83 L299.64 97.97 L300.76 98.54 L303 99.11 L304.68 99.68 L305.8 100.82 L306.36 101.96 L306.36 103.67 L305.8 104.81 L305.24 105.38 L303.56 105.95 L301.32 105.95 L299.64 105.38 L299.08 104.81 L298.52 103.67 L298.52 101.96 L299.08 100.82 L300.2 99.68 L301.88 99.11 L304.12 98.54 L305.24 97.97 L305.8 96.83 L305.8 95.69 L305.24 94.55 L303.56 93.98Z" stroke="#ff0000" stroke-width="2.4" fill="none" stroke-linecap="butt" stroke-linejoin="bevel"/>
<path d="M361.62 98.43 L367.78 98.43 L361.62 105.85 L367.78 105.85" stroke="#ff00ff" stroke-width="2.4" fill="none" stroke-linecap="butt" stroke-linejoin="bevel"/>
<path d="M370.6 101.75 c0.8 -1.8 1.8 -2.65 2.95 -2.65 c1.65 0 3.65 4.05 5.35 4.05 c1.4 0 2.7 -1.2 3.3 -3" stroke="#ff00ff" stroke-width="2.4" fill="none" stroke-linecap="butt"/>
<path d="M386.6 96.26 L387.72 95.69 L389.4 93.98 L389.4 105.95" stroke="#ff00ff" stroke-width="2.4" fill="none" stroke-linecap="butt" stroke-linejoin="bevel"/>
<path d="M400.64 93.98 L398.96 94.55 L397.84 96.26 L397.28 99.11 L397.28 100.82 L397.84 103.67 L398.96 105.38 L400.64 105.95 L401.76 105.95 L403.44 105.38 L404.56 103.67 L405.12 100.82 L405.12 99.11 L404.56 96.26 L403.44 94.55 L401.76 93.98Z" stroke="#ff00ff" stroke-width="2.4" fill="none" stroke-linecap="butt" stroke-linejoin="bevel"/>
<path d="M469.14 98.43 L475.3 98.43 L469.14 105.85 L475.3 105.85" stroke="#0000ff" stroke-width="2.4" fill="none" stroke-linecap="butt" stroke-linejoin="bevel"/>
<path d="M478.12 101.75 c0.8 -1.8 1.8 -2.65 2.95 -2.65 c1.65 0 3.65 4.05 5.35 4.05 c1.4 0 2.7 -1.2 3.3 -3" stroke="#0000ff" stroke-width="2.4" fill="none" stroke-linecap="butt"/>
<path d="M500.92 101.96 L492.52 101.96 L498.12 93.98 L498.12 105.95" stroke="#0000ff" stroke-width="2.4" fill="none" stroke-linecap="butt" stroke-linejoin="bevel"/>
<path d="M517.61 98.43 L523.77 98.43 L517.61 105.85 L523.77 105.85" stroke="#00cd00" stroke-width="2.4" fill="none" stroke-linecap="butt" stroke-linejoin="bevel"/>
<path d="M526.59 101.75 c0.8 -1.8 1.8 -2.65 2.95 -2.65 c1.65 0 3.65 4.05 5.35 4.05 c1.4 0 2.7 -1.2 3.3 -3" stroke="#00cd00" stroke-width="2.4" fill="none" stroke-linecap="butt"/>
<path d="M547.99 93.98 L542.39 93.98 L541.83 99.11 L542.39 98.54 L544.07 97.97 L545.75 97.97 L547.43 98.54 L548.55 99.68 L549.11 101.39 L549.11 102.53 L548.55 104.24 L547.43 105.38 L545.75 105.95 L544.07 105.95 L542.39 105.38 L541.83 104.81 L541.27 103.67" stroke="#00cd00" stroke-width="2.4" fill="none" stroke-linecap="butt" stroke-linejoin="bevel"/>
<path d="M562.47 98.43 L568.63 98.43 L562.47 105.85 L568.63 105.85" stroke="#009696" stroke-width="2.4" fill="none" stroke-linecap="butt" stroke-linejoin="bevel"/>
<path d="M571.45 101.75 c0.8 -1.8 1.8 -2.65 2.95 -2.65 c1.65 0 3.65 4.05 5.35 4.05 c1.4 0 2.7 -1.2 3.3 -3" stroke="#009696" stroke-width="2.4" fill="none" stroke-linecap="butt"/>
<path d="M593.13 95.69 L592.57 94.55 L590.89 93.98 L589.77 93.98 L588.09 94.55 L586.97 96.26 L586.41 99.11 L586.41 101.96 L586.97 104.24 L588.09 105.38 L589.77 105.95 L590.33 105.95 L592.01 105.38 L593.13 104.24 L593.69 102.53 L593.69 101.96 L593.13 100.25 L592.01 99.11 L590.33 98.54 L589.77 98.54 L588.09 99.11 L586.97 100.25 L586.41 101.96" stroke="#009696" stroke-width="2.4" fill="none" stroke-linecap="butt" stroke-linejoin="bevel"/>
<path d="M601.8 98.43 L607.96 98.43 L601.8 105.85 L607.96 105.85" stroke="#000000" stroke-width="2.4" fill="none" stroke-linecap="butt" stroke-linejoin="bevel"/>
<path d="M610.78 101.75 c0.8 -1.8 1.8 -2.65 2.95 -2.65 c1.65 0 3.65 4.05 5.35 4.05 c1.4 0 2.7 -1.2 3.3 -3" stroke="#000000" stroke-width="2.4" fill="none" stroke-linecap="butt"/>
<path d="M625.46 93.98 L633.3 93.98 L627.7 105.95" stroke="#000000" stroke-width="2.4" fill="none" stroke-linecap="butt" stroke-linejoin="bevel"/>
<path d="M650.71 98.43 L656.87 98.43 L650.71 105.85 L656.87 105.85" stroke="#ff0000" stroke-width="2.4" fill="none" stroke-linecap="butt" stroke-linejoin="bevel"/>
<path d="M659.69 101.75 c0.8 -1.8 1.8 -2.65 2.95 -2.65 c1.65 0 3.65 4.05 5.35 4.05 c1.4 0 2.7 -1.2 3.3 -3" stroke="#ff0000" stroke-width="2.4" fill="none" stroke-linecap="butt"/>
<path d="M677.17 93.98 L675.49 94.55 L674.93 95.69 L674.93 96.83 L675.49 97.97 L676.61 98.54 L678.85 99.11 L680.53 99.68 L681.65 100.82 L682.21 101.96 L682.21 103.67 L681.65 104.81 L681.09 105.38 L679.41 105.95 L677.17 105.95 L675.49 105.38 L674.93 104.81 L674.37 103.67 L674.37 101.96 L674.93 100.82 L676.05 99.68 L677.73 99.11 L679.97 98.54 L681.09 97.97 L681.65 96.83 L681.65 95.69 L681.09 94.55 L679.41 93.98Z" stroke="#ff0000" stroke-width="2.4" fill="none" stroke-linecap="butt" stroke-linejoin="bevel"/>
<path d="M737.47 98.43 L743.63 98.43 L737.47 105.85 L743.63 105.85" stroke="#ff00ff" stroke-width="2.4" fill="none" stroke-linecap="butt" stroke-linejoin="bevel"/>
<path d="M746.45 101.75 c0.8 -1.8 1.8 -2.65 2.95 -2.65 c1.65 0 3.65 4.05 5.35 4.05 c1.4 0 2.7 -1.2 3.3 -3" stroke="#ff00ff" stroke-width="2.4" fill="none" stroke-linecap="butt"/>
<path d="M762.45 96.26 L763.57 95.69 L765.25 93.98 L765.25 105.95" stroke="#ff00ff" stroke-width="2.4" fill="none" stroke-linecap="butt" stroke-linejoin="bevel"/>
<path d="M776.49 93.98 L774.81 94.55 L773.69 96.26 L773.13 99.11 L773.13 100.82 L773.69 103.67 L774.81 105.38 L776.49 105.95 L777.61 105.95 L779.29 105.38 L780.41 103.67 L780.97 100.82 L780.97 99.11 L780.41 96.26 L779.29 94.55 L777.61 93.98Z" stroke="#ff00ff" stroke-width="2.4" fill="none" stroke-linecap="butt" stroke-linejoin="bevel"/>
</svg>
</body></html>
